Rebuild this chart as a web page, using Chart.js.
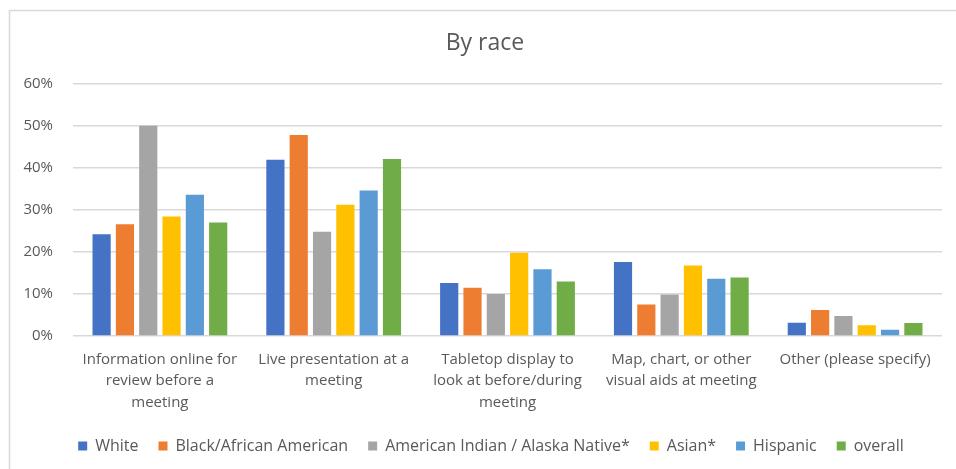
<!DOCTYPE html>
<html>
<head>
<meta charset="utf-8">
<script src="https://cdn.jsdelivr.net/npm/chart.js@4"></script>
<style>
  html, body { margin: 0; padding: 0; background: #fff; }
  #wrap { width: 956px; height: 469px; position: relative; }
</style>
</head>
<body>
<div id="wrap"><canvas id="c"></canvas></div>
<script>
const categories = [
  ['Information online for', 'review before a', 'meeting'],
  ['Live presentation at a', 'meeting'],
  ['Tabletop display to', 'look at before/during', 'meeting'],
  ['Map, chart, or other', 'visual aids at meeting'],
  ['Other (please specify)'],
];

const white     = [24.2, 41.9, 12.6, 17.6, 3.2];
const black     = [26.6, 47.8, 11.5, 7.5, 6.2];
const amIndian  = [50.0, 24.8, 10.0, 9.9, 4.8];
const asian     = [28.4, 31.2, 19.8, 16.8, 2.6];
const hispanic  = [33.6, 34.6, 15.9, 13.6, 1.5];
const overall   = [27.0, 42.1, 13.0, 13.9, 3.1];

const seriesNames = ['White', 'Black/African American', 'American Indian / Alaska Native*', 'Asian*', 'Hispanic', 'overall'];
const seriesData = [white, black, amIndian, asian, hispanic, overall];
const colors = ['#4472C4', '#ED7D31', '#A5A5A5', '#FFC000', '#5B9BD5', '#70AD47'];

const yTicks = [0, 10, 20, 30, 40, 50, 60];

const FONT = "'Open Sans', sans-serif";
const TEXT = '#595959';

// light frame on the left and top edges, like the pasted chart object
const framePlugin = {
  id: 'frame',
  afterLayout(chart) {
    // centre the legend and title under the plot rather than the canvas
    chart.legend.left += 14;
    chart.legend.right += 14;
    chart.titleBlock.left += 8;
    chart.titleBlock.right += 8;
  },
  beforeDraw(chart) {
    const ctx = chart.ctx;
    ctx.save();
    ctx.fillStyle = '#fff';
    ctx.fillRect(0, 0, chart.width, chart.height);
    ctx.strokeStyle = '#d9d9d9';
    ctx.lineWidth = 1.5;
    ctx.beginPath();
    ctx.moveTo(9.5, chart.height);
    ctx.lineTo(9.5, 10.5);
    ctx.lineTo(chart.width, 10.5);
    ctx.stroke();
    ctx.restore();
  },
};

new Chart(document.getElementById('c'), {
  type: 'bar',
  data: {
    labels: categories,
    datasets: seriesNames.map((name, i) => ({
      label: name,
      data: seriesData[i],
      backgroundColor: colors[i],
      borderWidth: 0,
      categoryPercentage: 0.805,
      barPercentage: 0.78,
    })),
  },
  options: {
    responsive: true,
    maintainAspectRatio: false,
    animation: false,
    layout: { padding: { left: 12, right: 14, top: 8, bottom: 5 } },
    plugins: {
      title: {
        display: true,
        text: 'By race',
        color: TEXT,
        font: { family: FONT, size: 23, weight: 'normal' },
        padding: { top: 22, bottom: 26 },
      },
      legend: {
        position: 'bottom',
        labels: {
          color: TEXT,
          font: { family: FONT, size: 16 },
          boxWidth: 9,
          boxHeight: 9,
          padding: 20,
        },
      },
      tooltip: { enabled: false },
    },
    scales: {
      x: {
        grid: { display: false },
        border: { display: false },
        ticks: {
          color: TEXT,
          font: { family: FONT, size: 15, lineHeight: 1.42 },
          maxRotation: 0,
          autoSkip: false,
          padding: 5,
        },
      },
      y: {
        min: 0,
        max: 60,
        afterBuildTicks(axis) { axis.ticks = yTicks.map(v => ({ value: v })); },
        afterFit(axis) { axis.width = 61; },
        grid: { color: '#d9d9d9', lineWidth: 1.5, drawTicks: false },
        border: { display: false },
        ticks: {
          color: TEXT,
          font: { family: FONT, size: 15 },
          padding: 20,
          callback: v => v + '%',
        },
      },
    },
  },
  plugins: [framePlugin],
});
</script>
</body>
</html>
